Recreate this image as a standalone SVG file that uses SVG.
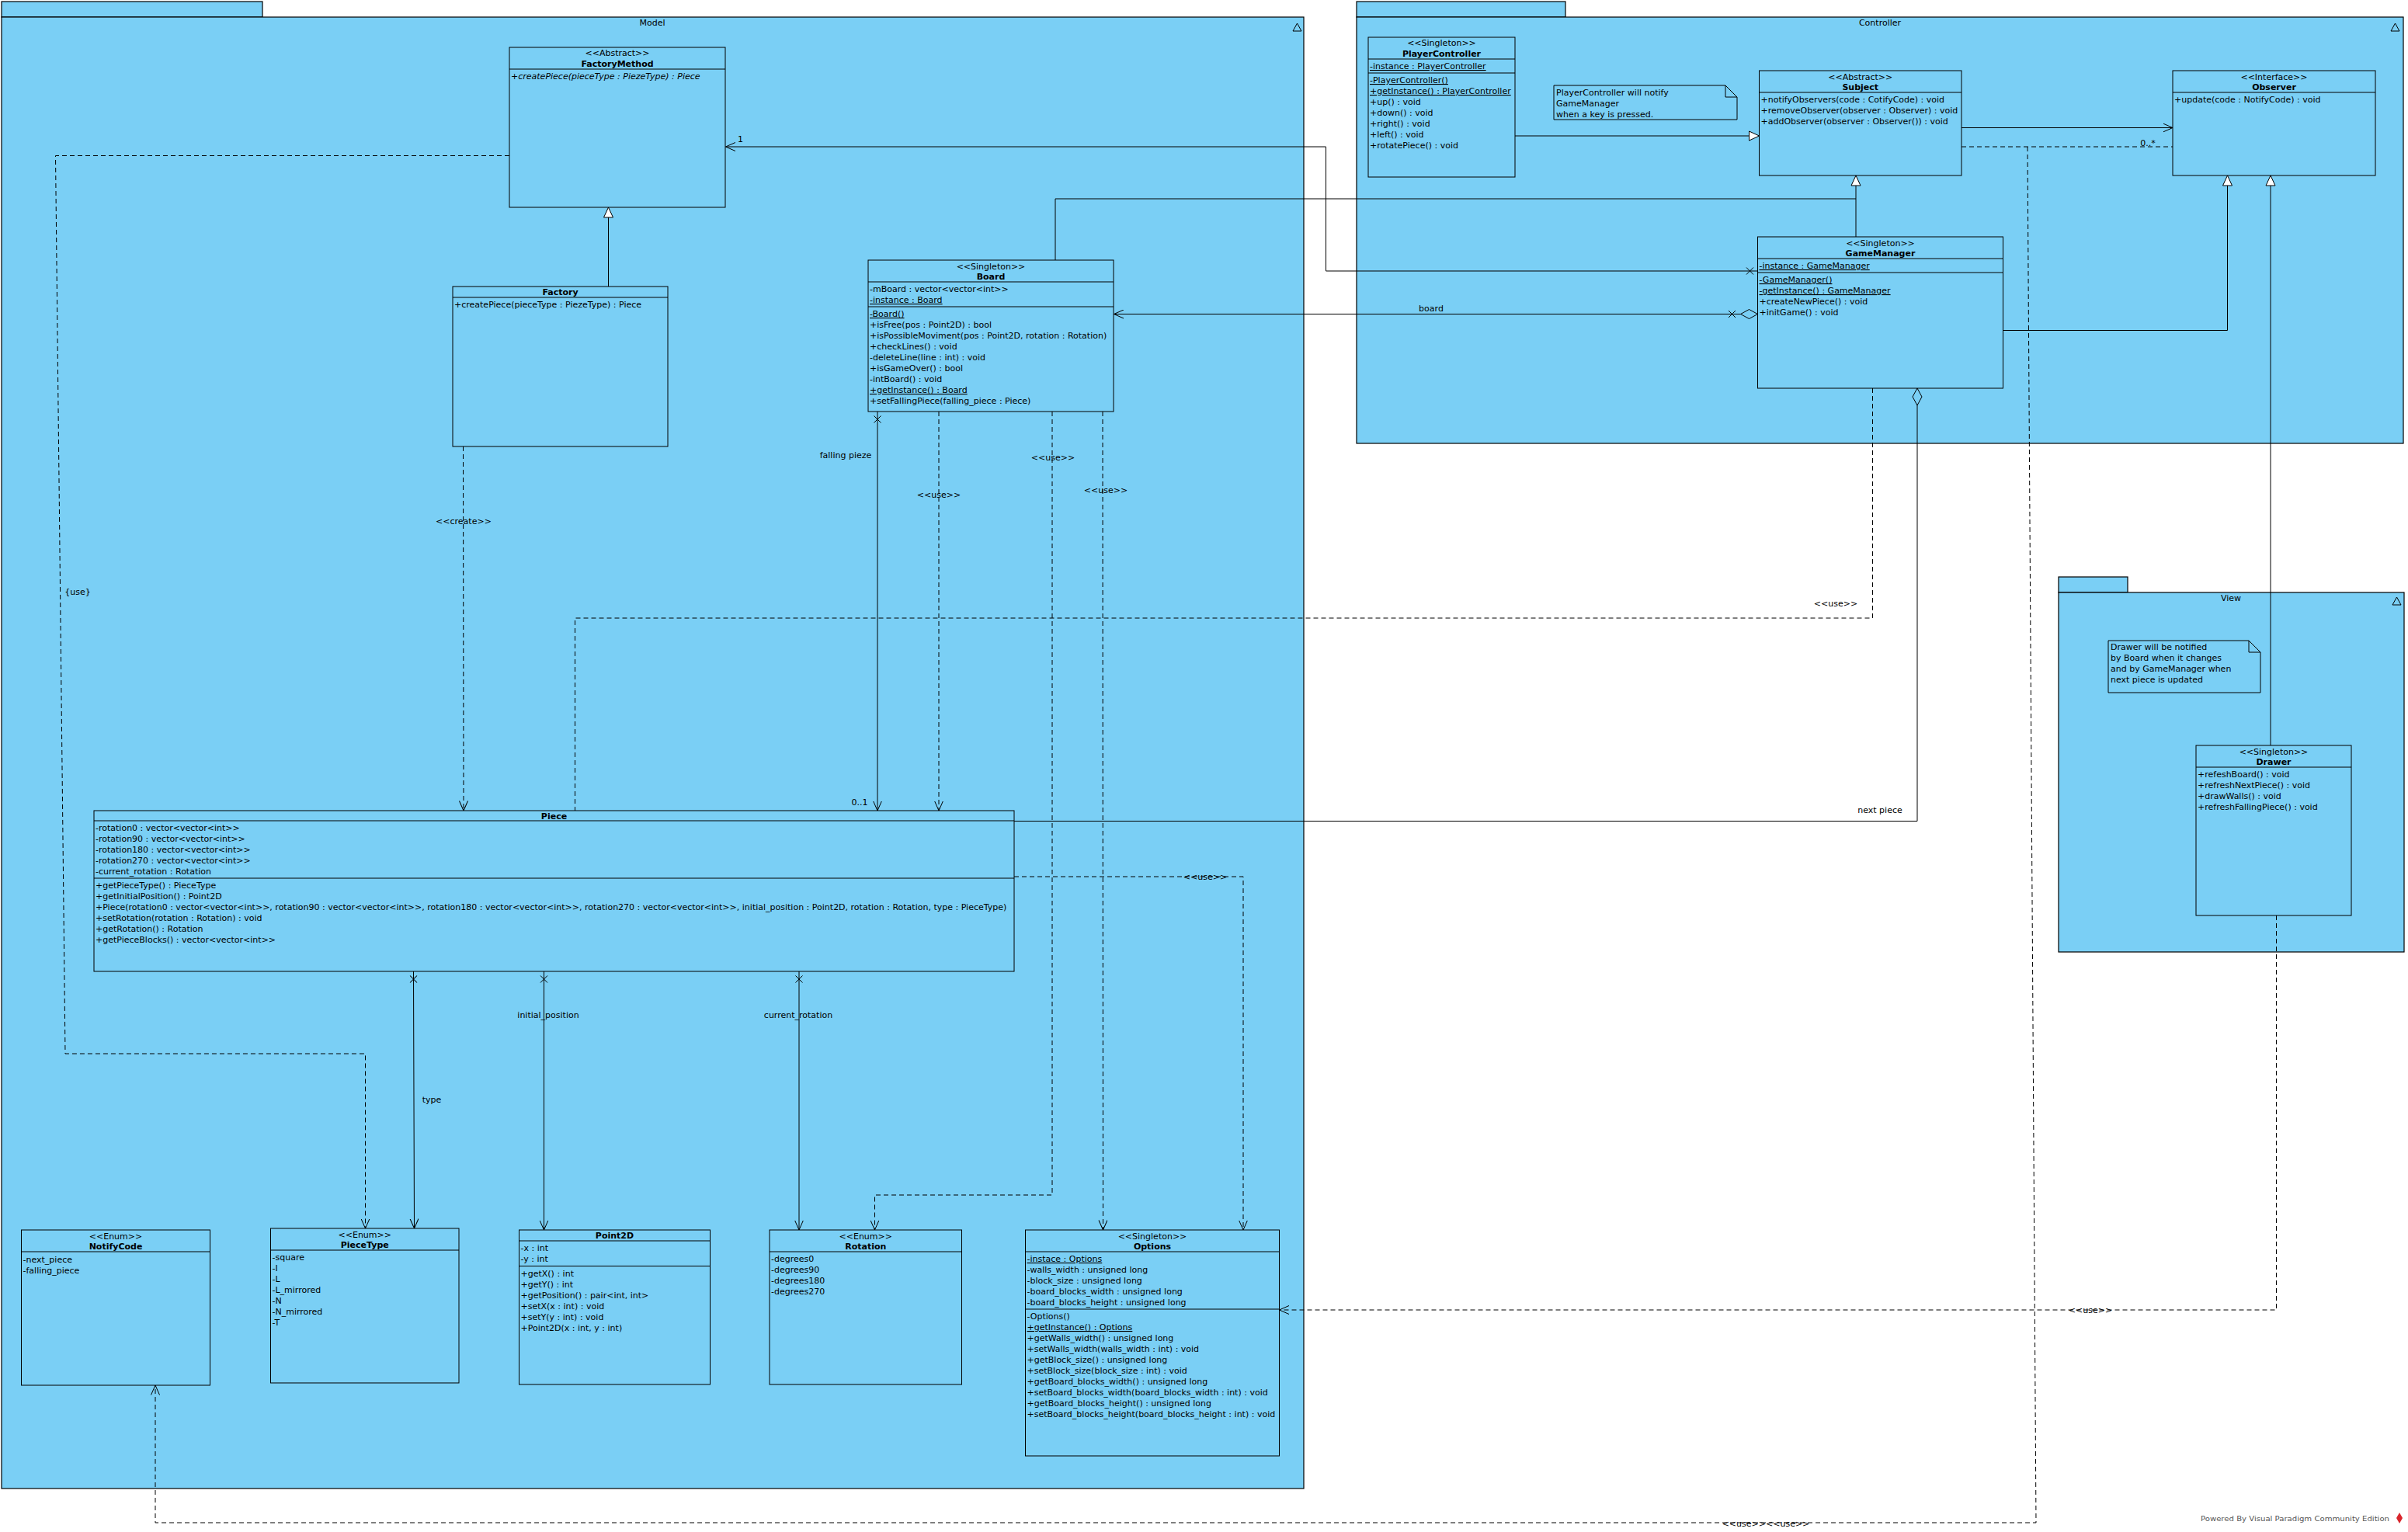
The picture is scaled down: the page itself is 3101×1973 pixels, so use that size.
<svg xmlns="http://www.w3.org/2000/svg" width="3101" height="1973" viewBox="0 0 3101 1973">
<style>
.pk{fill:#7ACFF5;stroke:#000;stroke-width:1.2}
.cl{fill:#7ACFF5;stroke:#000;stroke-width:1}
.sep{stroke:#000;stroke-width:1}
.t{font-family:"DejaVu Sans","Liberation Sans",sans-serif;font-size:11px;fill:#000}
.b{font-weight:bold}
.c{text-anchor:middle}
.u{text-decoration:underline}
.i{font-style:italic}
.ln{fill:none;stroke:#000;stroke-width:1}
.d{stroke-dasharray:6,4}
.wm{font-family:"DejaVu Sans","Liberation Sans",sans-serif;font-size:9px;fill:#555}
</style>
<defs>
<marker id="open" viewBox="0 0 13 12" refX="12.5" refY="6" markerWidth="13" markerHeight="12" orient="auto" markerUnits="userSpaceOnUse"><path d="M0,0.5 L12.5,6 L0,11.5" fill="none" stroke="#000" stroke-width="1" stroke-dasharray="none"/></marker>
<marker id="tri" viewBox="0 0 14 14" refX="13.5" refY="7" markerWidth="14" markerHeight="14" orient="auto" markerUnits="userSpaceOnUse"><path d="M0.5,1 L13.5,7 L0.5,13 Z" fill="#fff" stroke="#000" stroke-width="1" stroke-dasharray="none"/></marker>
<marker id="xm" viewBox="0 0 16 12" refX="0" refY="6" markerWidth="16" markerHeight="12" orient="auto" markerUnits="userSpaceOnUse"><path d="M5.5,1.5 L14.5,10.5 M14.5,1.5 L5.5,10.5" fill="none" stroke="#000" stroke-width="1"/></marker>
<marker id="dia" viewBox="0 0 24 14" refX="0.5" refY="7" markerWidth="24" markerHeight="14" orient="auto" markerUnits="userSpaceOnUse"><path d="M0.5,7 L11.5,1 L22.5,7 L11.5,13 Z" fill="#7ACFF5" stroke="#000" stroke-width="1"/></marker>
<marker id="diax" viewBox="0 0 40 14" refX="0.5" refY="7" markerWidth="40" markerHeight="14" orient="auto" markerUnits="userSpaceOnUse"><path d="M0.5,7 L11.5,1 L22.5,7 L11.5,13 Z" fill="#7ACFF5" stroke="#000" stroke-width="1"/><path d="M29,2.5 L38,11.5 M38,2.5 L29,11.5" fill="none" stroke="#000" stroke-width="1"/></marker>
</defs>
<rect x="0" y="0" width="3101" height="1973" fill="#fff"/>

<!-- packages -->
<g id="pkg-model">
<rect class="pk" x="2" y="2" width="336" height="20"/>
<rect class="pk" x="2" y="22" width="1677" height="1895"/>
<text class="t c" x="840" y="33">Model</text>
<path d="M1665,40 L1676,40 L1670.5,30 Z" fill="none" stroke="#000"/>
</g>
<g id="pkg-controller">
<rect class="pk" x="1747" y="2" width="269" height="20"/>
<rect class="pk" x="1747" y="22" width="1348" height="549"/>
<text class="t c" x="2421" y="33">Controller</text>
<path d="M3079,40 L3090,40 L3084.5,30 Z" fill="none" stroke="#000"/>
</g>
<g id="pkg-view">
<rect class="pk" x="2651" y="743" width="89" height="20"/>
<rect class="pk" x="2651" y="763" width="445" height="463"/>
<text class="t c" x="2873" y="774">View</text>
<path d="M3081,779 L3092,779 L3086.5,769 Z" fill="none" stroke="#000"/>
</g>

<!-- connectors -->
<g id="connectors">
<path class="ln" d="M783.5,369 V267" marker-end="url(#tri)"/>
<path class="ln" d="M1951,175 H2265.5" marker-end="url(#tri)"/>
<path class="ln" d="M2390,305 V226" marker-end="url(#tri)"/>
<path class="ln" d="M1359,335 V256 H2390"/>
<path class="ln" d="M2579.5,425.5 H2868.5 V226" marker-end="url(#tri)"/>
<path class="ln" d="M2924,960 V226" marker-end="url(#tri)"/>
<path class="ln" d="M2526,164.5 H2798" marker-end="url(#open)"/>
<path class="ln d" d="M2526,189 H2798"/>
<path class="ln d" d="M2611,189 L2622,1961 H200 V1784" marker-end="url(#open)"/>
<path class="ln" d="M2263.5,349 H1707.5 V189 H934.5" marker-start="url(#xm)" marker-end="url(#open)"/>
<path class="ln" d="M2263.5,404.5 H1434.5" marker-start="url(#diax)" marker-end="url(#open)"/>
<path class="ln" d="M2469,500 V1057.5 H1306" marker-start="url(#dia)"/>
<path class="ln" d="M1130,530 V1044" marker-start="url(#xm)" marker-end="url(#open)"/>
<path class="ln d" d="M1209,530 V1044" marker-end="url(#open)"/>
<path class="ln d" d="M1355,530 V1539 H1126.5 V1584" marker-end="url(#open)"/>
<path class="ln d" d="M1420,530 L1420.5,1584" marker-end="url(#open)"/>
<path class="ln d" d="M596.5,575 L597,1044" marker-end="url(#open)"/>
<path class="ln d" d="M2411.5,500 V796 H740.5 V1044"/>
<path class="ln d" d="M656,200.5 H71.5 L84,1357 H470.5 V1582" marker-end="url(#open)"/>
<path class="ln d" d="M1306,1129 H1601 V1584" marker-end="url(#open)"/>
<path class="ln" d="M532.5,1251 L533.5,1582" marker-start="url(#xm)" marker-end="url(#open)"/>
<path class="ln" d="M700.5,1251 V1584" marker-start="url(#xm)" marker-end="url(#open)"/>
<path class="ln" d="M1029,1251 V1584" marker-start="url(#xm)" marker-end="url(#open)"/>
<path class="ln d" d="M2931.5,1179 V1687 H1647.5" marker-end="url(#open)"/>
<text class="t c" x="2766" y="188">0..*</text>
<text class="t c" x="2274" y="1966">&lt;&lt;use&gt;&gt;&lt;&lt;use&gt;&gt;</text>
<text class="t" x="950" y="183">1</text>
<text class="t c" x="1843" y="401">board</text>
<text class="t c" x="2421" y="1047">next piece</text>
<text class="t c" x="1089" y="590">falling pieze</text>
<text class="t c" x="1107" y="1037">0..1</text>
<text class="t c" x="1209" y="641">&lt;&lt;use&gt;&gt;</text>
<text class="t c" x="1356" y="593">&lt;&lt;use&gt;&gt;</text>
<text class="t c" x="1424" y="635">&lt;&lt;use&gt;&gt;</text>
<text class="t c" x="597" y="675">&lt;&lt;create&gt;&gt;</text>
<text class="t c" x="2364" y="781">&lt;&lt;use&gt;&gt;</text>
<text class="t c" x="100" y="766">{use}</text>
<text class="t c" x="1552" y="1133">&lt;&lt;use&gt;&gt;</text>
<text class="t c" x="556" y="1420">type</text>
<text class="t c" x="706" y="1311">initial_position</text>
<text class="t c" x="1028" y="1311">current_rotation</text>
<text class="t c" x="2692" y="1691">&lt;&lt;use&gt;&gt;</text>
</g>

<!-- classes -->
<g id="FactoryMethod">
<rect class="cl" x="656" y="61" width="278" height="206"/>
<line class="sep" x1="656" y1="89" x2="934" y2="89"/>
<text class="t c" x="795" y="72">&lt;&lt;Abstract&gt;&gt;</text>
<text class="t c b" x="795" y="85.5">FactoryMethod</text>
<text class="t i" x="658" y="102">+createPiece(pieceType : PiezeType) : Piece</text>
</g>
<g id="Factory">
<rect class="cl" x="583" y="369" width="277" height="206"/>
<line class="sep" x1="583" y1="383" x2="860" y2="383"/>
<text class="t c b" x="721.5" y="380">Factory</text>
<text class="t" x="585" y="396">+createPiece(pieceType : PiezeType) : Piece</text>
</g>
<g id="Board">
<rect class="cl" x="1118" y="335" width="316" height="195"/>
<line class="sep" x1="1118" y1="363" x2="1434" y2="363"/>
<line class="sep" x1="1118" y1="395" x2="1434" y2="395"/>
<text class="t c" x="1276" y="346.5">&lt;&lt;Singleton&gt;&gt;</text>
<text class="t c b" x="1276" y="359.5">Board</text>
<text class="t" x="1120" y="376">-mBoard : vector&lt;vector&lt;int&gt;&gt;</text>
<text class="t u" x="1120" y="390">-instance : Board</text>
<text class="t u" x="1120" y="408">-Board()</text>
<text class="t" x="1120" y="422">+isFree(pos : Point2D) : bool</text>
<text class="t" x="1120" y="436">+isPossibleMoviment(pos : Point2D, rotation : Rotation)</text>
<text class="t" x="1120" y="450">+checkLines() : void</text>
<text class="t" x="1120" y="464">-deleteLine(line : int) : void</text>
<text class="t" x="1120" y="478">+isGameOver() : bool</text>
<text class="t" x="1120" y="492">-intBoard() : void</text>
<text class="t u" x="1120" y="506">+getInstance() : Board</text>
<text class="t" x="1120" y="520">+setFallingPiece(falling_piece : Piece)</text>
</g>
<g id="PlayerController">
<rect class="cl" x="1762" y="48" width="189" height="180"/>
<line class="sep" x1="1762" y1="76" x2="1951" y2="76"/>
<line class="sep" x1="1762" y1="94" x2="1951" y2="94"/>
<text class="t c" x="1856.5" y="59">&lt;&lt;Singleton&gt;&gt;</text>
<text class="t c b" x="1856.5" y="73">PlayerController</text>
<text class="t u" x="1764" y="89">-instance : PlayerController</text>
<text class="t u" x="1764" y="107">-PlayerController()</text>
<text class="t u" x="1764" y="121">+getInstance() : PlayerController</text>
<text class="t" x="1764" y="135">+up() : void</text>
<text class="t" x="1764" y="149">+down() : void</text>
<text class="t" x="1764" y="163">+right() : void</text>
<text class="t" x="1764" y="177">+left() : void</text>
<text class="t" x="1764" y="191">+rotatePiece() : void</text>
</g>
<g id="note-controller">
<path class="cl" d="M2001,110 H2222 L2237,125 V154 H2001 Z"/>
<path class="ln" d="M2222,110 V125 H2237"/>
<text class="t" x="2004" y="123">PlayerController will notify</text>
<text class="t" x="2004" y="137">GameManager</text>
<text class="t" x="2004" y="151">when a key is pressed.</text>
</g>
<g id="Subject">
<rect class="cl" x="2265.5" y="91" width="260.5" height="135"/>
<line class="sep" x1="2265.5" y1="119" x2="2526" y2="119"/>
<text class="t c" x="2395.75" y="102.5">&lt;&lt;Abstract&gt;&gt;</text>
<text class="t c b" x="2395.75" y="116">Subject</text>
<text class="t" x="2267.5" y="132">+notifyObservers(code : CotifyCode) : void</text>
<text class="t" x="2267.5" y="146">+removeObserver(observer : Observer) : void</text>
<text class="t" x="2267.5" y="160">+addObserver(observer : Observer()) : void</text>
</g>
<g id="Observer">
<rect class="cl" x="2798" y="91" width="261" height="135"/>
<line class="sep" x1="2798" y1="119" x2="3059" y2="119"/>
<text class="t c" x="2928.5" y="102.5">&lt;&lt;Interface&gt;&gt;</text>
<text class="t c b" x="2928.5" y="116">Observer</text>
<text class="t" x="2800" y="132">+update(code : NotifyCode) : void</text>
</g>
<g id="GameManager">
<rect class="cl" x="2263.5" y="305" width="316" height="195"/>
<line class="sep" x1="2263.5" y1="333" x2="2579.5" y2="333"/>
<line class="sep" x1="2263.5" y1="351" x2="2579.5" y2="351"/>
<text class="t c" x="2421.5" y="316.5">&lt;&lt;Singleton&gt;&gt;</text>
<text class="t c b" x="2421.5" y="330">GameManager</text>
<text class="t u" x="2265.5" y="346">-instance : GameManager</text>
<text class="t u" x="2265.5" y="364">-GameManager()</text>
<text class="t u" x="2265.5" y="378">-getInstance() : GameManager</text>
<text class="t" x="2265.5" y="392">+createNewPiece() : void</text>
<text class="t" x="2265.5" y="406">+initGame() : void</text>
</g>
<g id="note-view">
<path class="cl" d="M2715,825 H2896 L2911,840 V892 H2715 Z"/>
<path class="ln" d="M2896,825 V840 H2911"/>
<text class="t" x="2718" y="837">Drawer will be notified</text>
<text class="t" x="2718" y="851">by Board when it changes</text>
<text class="t" x="2718" y="865">and by GameManager when</text>
<text class="t" x="2718" y="879">next piece is updated</text>
</g>
<g id="Drawer">
<rect class="cl" x="2828" y="960" width="200" height="219"/>
<line class="sep" x1="2828" y1="988" x2="3028" y2="988"/>
<text class="t c" x="2928" y="971.5">&lt;&lt;Singleton&gt;&gt;</text>
<text class="t c b" x="2928" y="985">Drawer</text>
<text class="t" x="2830" y="1001">+refeshBoard() : void</text>
<text class="t" x="2830" y="1015">+refreshNextPiece() : void</text>
<text class="t" x="2830" y="1029">+drawWalls() : void</text>
<text class="t" x="2830" y="1043">+refreshFallingPiece() : void</text>
</g>
<g id="Piece">
<rect class="cl" x="121" y="1044" width="1185" height="207"/>
<line class="sep" x1="121" y1="1057" x2="1306" y2="1057"/>
<line class="sep" x1="121" y1="1131" x2="1306" y2="1131"/>
<text class="t c b" x="713.5" y="1055">Piece</text>
<text class="t" x="123" y="1070">-rotation0 : vector&lt;vector&lt;int&gt;&gt;</text>
<text class="t" x="123" y="1084">-rotation90 : vector&lt;vector&lt;int&gt;&gt;</text>
<text class="t" x="123" y="1098">-rotation180 : vector&lt;vector&lt;int&gt;&gt;</text>
<text class="t" x="123" y="1112">-rotation270 : vector&lt;vector&lt;int&gt;&gt;</text>
<text class="t" x="123" y="1126">-current_rotation : Rotation</text>
<text class="t" x="123" y="1144">+getPieceType() : PieceType</text>
<text class="t" x="123" y="1158">+getInitialPosition() : Point2D</text>
<text class="t" x="123" y="1172">+Piece(rotation0 : vector&lt;vector&lt;int&gt;&gt;, rotation90 : vector&lt;vector&lt;int&gt;&gt;, rotation180 : vector&lt;vector&lt;int&gt;&gt;, rotation270 : vector&lt;vector&lt;int&gt;&gt;, initial_position : Point2D, rotation : Rotation, type : PieceType)</text>
<text class="t" x="123" y="1186">+setRotation(rotation : Rotation) : void</text>
<text class="t" x="123" y="1200">+getRotation() : Rotation</text>
<text class="t" x="123" y="1214">+getPieceBlocks() : vector&lt;vector&lt;int&gt;&gt;</text>
</g>
<g id="NotifyCode">
<rect class="cl" x="27.5" y="1584" width="243" height="200"/>
<line class="sep" x1="27.5" y1="1612" x2="270.5" y2="1612"/>
<text class="t c" x="149" y="1595.5">&lt;&lt;Enum&gt;&gt;</text>
<text class="t c b" x="149" y="1609">NotifyCode</text>
<text class="t" x="29.5" y="1626">-next_piece</text>
<text class="t" x="29.5" y="1640">-falling_piece</text>
</g>
<g id="PieceType">
<rect class="cl" x="348.5" y="1582" width="242.5" height="199"/>
<line class="sep" x1="348.5" y1="1610" x2="591" y2="1610"/>
<text class="t c" x="469.75" y="1593.5">&lt;&lt;Enum&gt;&gt;</text>
<text class="t c b" x="469.75" y="1607">PieceType</text>
<text class="t" x="350.5" y="1623">-square</text>
<text class="t" x="350.5" y="1637">-I</text>
<text class="t" x="350.5" y="1651">-L</text>
<text class="t" x="350.5" y="1665">-L_mirrored</text>
<text class="t" x="350.5" y="1679">-N</text>
<text class="t" x="350.5" y="1693">-N_mirrored</text>
<text class="t" x="350.5" y="1707">-T</text>
</g>
<g id="Point2D">
<rect class="cl" x="668.5" y="1584" width="246" height="199"/>
<line class="sep" x1="668.5" y1="1598" x2="914.5" y2="1598"/>
<line class="sep" x1="668.5" y1="1630.5" x2="914.5" y2="1630.5"/>
<text class="t c b" x="791.5" y="1595">Point2D</text>
<text class="t" x="670.5" y="1611">-x : int</text>
<text class="t" x="670.5" y="1625">-y : int</text>
<text class="t" x="670.5" y="1644">+getX() : int</text>
<text class="t" x="670.5" y="1658">+getY() : int</text>
<text class="t" x="670.5" y="1672">+getPosition() : pair&lt;int, int&gt;</text>
<text class="t" x="670.5" y="1686">+setX(x : int) : void</text>
<text class="t" x="670.5" y="1700">+setY(y : int) : void</text>
<text class="t" x="670.5" y="1714">+Point2D(x : int, y : int)</text>
</g>
<g id="Rotation">
<rect class="cl" x="991" y="1584" width="247.5" height="199"/>
<line class="sep" x1="991" y1="1612" x2="1238.5" y2="1612"/>
<text class="t c" x="1114.75" y="1595.5">&lt;&lt;Enum&gt;&gt;</text>
<text class="t c b" x="1114.75" y="1609">Rotation</text>
<text class="t" x="993" y="1625">-degrees0</text>
<text class="t" x="993" y="1639">-degrees90</text>
<text class="t" x="993" y="1653">-degrees180</text>
<text class="t" x="993" y="1667">-degrees270</text>
</g>
<g id="Options">
<rect class="cl" x="1320.5" y="1584" width="327" height="291"/>
<line class="sep" x1="1320.5" y1="1612" x2="1647.5" y2="1612"/>
<line class="sep" x1="1320.5" y1="1686" x2="1647.5" y2="1686"/>
<text class="t c" x="1484" y="1595.5">&lt;&lt;Singleton&gt;&gt;</text>
<text class="t c b" x="1484" y="1609">Options</text>
<text class="t u" x="1322.5" y="1625">-instace : Options</text>
<text class="t" x="1322.5" y="1639">-walls_width : unsigned long</text>
<text class="t" x="1322.5" y="1653">-block_size : unsigned long</text>
<text class="t" x="1322.5" y="1667">-board_blocks_width : unsigned long</text>
<text class="t" x="1322.5" y="1681">-board_blocks_height : unsigned long</text>
<text class="t" x="1322.5" y="1699">-Options()</text>
<text class="t u" x="1322.5" y="1713">+getInstance() : Options</text>
<text class="t" x="1322.5" y="1727">+getWalls_width() : unsigned long</text>
<text class="t" x="1322.5" y="1741">+setWalls_width(walls_width : int) : void</text>
<text class="t" x="1322.5" y="1755">+getBlock_size() : unsigned long</text>
<text class="t" x="1322.5" y="1769">+setBlock_size(block_size : int) : void</text>
<text class="t" x="1322.5" y="1783">+getBoard_blocks_width() : unsigned long</text>
<text class="t" x="1322.5" y="1797">+setBoard_blocks_width(board_blocks_width : int) : void</text>
<text class="t" x="1322.5" y="1811">+getBoard_blocks_height() : unsigned long</text>
<text class="t" x="1322.5" y="1825">+setBoard_blocks_height(board_blocks_height : int) : void</text>
</g>
<g id="watermark">
<text class="wm" x="2834" y="1959" textLength="243" lengthAdjust="spacingAndGlyphs">Powered By Visual Paradigm Community Edition</text>
<path d="M3090,1948 L3094,1955 L3090,1962 L3086,1955 Z" fill="#d9262c"/>
</g>
</svg>
